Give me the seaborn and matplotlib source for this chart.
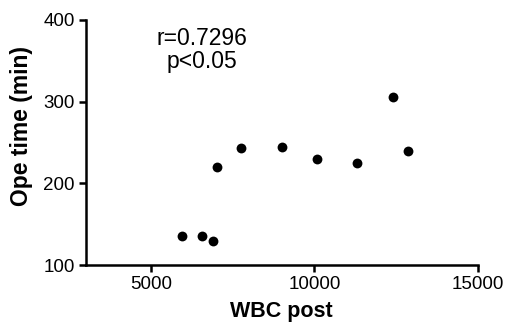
import matplotlib
matplotlib.use("Agg")
import matplotlib.pyplot as plt
import seaborn as sns
import pandas as pd

wbc_post = [5930, 6570, 6890, 7030, 7740, 9000, 10070, 11300, 12400, 12880]
ope_time = [135, 135, 130, 220, 243, 244, 230, 225, 306, 240]
x_ticks = [5000, 10000, 15000]
y_ticks = [100, 200, 300, 400]
annotation = "r=0.7296\np<0.05"

sns.set_theme(style="ticks")
plt.rcParams['font.family'] = ['Liberation Sans', 'DejaVu Sans']

df = pd.DataFrame({"WBC post": wbc_post, "Ope time (min)": ope_time})

fig = plt.figure(figsize=(5.05, 3.22), dpi=100)
ax = fig.add_axes([0.170, 0.177, 0.776, 0.761])
sns.scatterplot(data=df, x="WBC post", y="Ope time (min)", ax=ax,
                color="black", s=50, edgecolor="black", linewidth=0)

ax.set_xlim(3000, 15000)
ax.set_ylim(100, 400)
ax.set_xticks(x_ticks)
ax.set_yticks(y_ticks)
ax.tick_params(axis="both", labelsize=13.5, width=1.8, length=5, color="black",
               labelcolor="black", pad=3)
for s in ["left", "bottom"]:
    ax.spines[s].set_linewidth(1.8)
    ax.spines[s].set_color("black")
for s in ["top", "right"]:
    ax.spines[s].set_visible(False)
ax.set_xlabel("WBC post", fontsize=15.5, fontweight="bold", color="black")
ax.set_ylabel("Ope time (min)", fontsize=16.5, fontweight="bold", color="black")
ax.xaxis.set_label_coords(0.5, -0.148)
ax.yaxis.set_label_coords(-0.135, 0.567)

ax.text(0.295, 0.878, annotation, transform=ax.transAxes, ha="center", va="center",
        fontsize=16.5, color="black", linespacing=1.0)

fig.savefig("out.png", dpi=100, facecolor="white")
